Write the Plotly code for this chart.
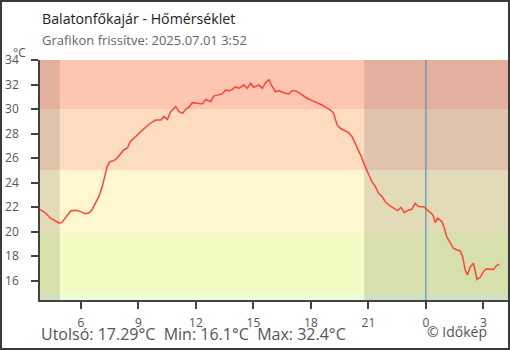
import plotly.graph_objects as go

# ---------------- data ----------------
times = [
    "2025-06-30 03:52", "2025-06-30 04:10", "2025-06-30 04:25", "2025-06-30 04:41", "2025-06-30 04:51",
    "2025-06-30 05:00", "2025-06-30 05:12", "2025-06-30 05:28", "2025-06-30 05:43", "2025-06-30 05:59",
    "2025-06-30 06:14", "2025-06-30 06:25", "2025-06-30 06:35", "2025-06-30 06:46", "2025-06-30 06:56",
    "2025-06-30 07:07", "2025-06-30 07:14", "2025-06-30 07:22", "2025-06-30 07:31", "2025-06-30 07:43",
    "2025-06-30 07:53", "2025-06-30 08:04", "2025-06-30 08:14", "2025-06-30 08:25", "2025-06-30 08:35",
    "2025-06-30 08:51", "2025-06-30 09:01", "2025-06-30 09:07", "2025-06-30 09:34", "2025-06-30 09:54",
    "2025-06-30 10:10", "2025-06-30 10:20", "2025-06-30 10:31", "2025-06-30 10:41", "2025-06-30 10:57",
    "2025-06-30 11:07", "2025-06-30 11:18", "2025-06-30 11:28", "2025-06-30 11:38", "2025-06-30 11:49",
    "2025-06-30 12:05", "2025-06-30 12:20", "2025-06-30 12:31", "2025-06-30 12:46", "2025-06-30 12:56",
    "2025-06-30 13:12", "2025-06-30 13:22", "2025-06-30 13:33", "2025-06-30 13:43", "2025-06-30 13:54",
    "2025-06-30 14:04", "2025-06-30 14:14", "2025-06-30 14:30", "2025-06-30 14:41", "2025-06-30 14:51",
    "2025-06-30 15:01", "2025-06-30 15:17", "2025-06-30 15:28", "2025-06-30 15:38", "2025-06-30 15:49",
    "2025-06-30 15:59", "2025-06-30 16:09", "2025-06-30 16:20", "2025-06-30 16:35", "2025-06-30 16:51",
    "2025-06-30 17:01", "2025-06-30 17:12", "2025-06-30 17:22", "2025-06-30 17:32", "2025-06-30 17:48",
    "2025-06-30 18:04", "2025-06-30 18:20", "2025-06-30 18:35", "2025-06-30 18:46", "2025-06-30 19:01",
    "2025-06-30 19:11", "2025-06-30 19:17", "2025-06-30 19:22", "2025-06-30 19:32", "2025-06-30 19:48",
    "2025-06-30 19:58", "2025-06-30 20:09", "2025-06-30 20:19", "2025-06-30 20:29", "2025-06-30 20:40",
    "2025-06-30 20:50", "2025-06-30 21:01", "2025-06-30 21:11", "2025-06-30 21:22", "2025-06-30 21:32",
    "2025-06-30 21:43", "2025-06-30 21:53", "2025-06-30 22:08", "2025-06-30 22:24", "2025-06-30 22:31",
    "2025-06-30 22:42", "2025-06-30 22:52", "2025-06-30 23:02", "2025-06-30 23:16", "2025-06-30 23:26",
    "2025-06-30 23:37", "2025-06-30 23:53", "2025-07-01 00:03", "2025-07-01 00:13", "2025-07-01 00:22",
    "2025-07-01 00:29", "2025-07-01 00:37", "2025-07-01 00:50", "2025-07-01 00:58", "2025-07-01 01:05",
    "2025-07-01 01:16", "2025-07-01 01:26", "2025-07-01 01:37", "2025-07-01 01:47", "2025-07-01 01:55",
    "2025-07-01 02:03", "2025-07-01 02:10", "2025-07-01 02:19", "2025-07-01 02:29", "2025-07-01 02:34",
    "2025-07-01 02:40", "2025-07-01 02:50", "2025-07-01 03:00", "2025-07-01 03:08", "2025-07-01 03:21",
    "2025-07-01 03:32", "2025-07-01 03:40", "2025-07-01 03:47", "2025-07-01 03:50",
]
temps = [
    21.82, 21.50, 21.09, 20.87, 20.70,
    20.73, 21.17, 21.68, 21.74, 21.63,
    21.46, 21.52, 21.77, 22.31, 22.85,
    23.67, 24.48, 25.30, 25.70, 25.79,
    25.98, 26.39, 26.66, 26.80, 27.35,
    27.74, 27.96, 28.15, 28.78, 29.10,
    29.10, 29.38, 29.16, 29.78, 30.19,
    29.78, 29.65, 29.98, 30.14, 30.52,
    30.47, 30.41, 30.79, 30.60, 31.06,
    31.15, 31.23, 31.55, 31.50, 31.60,
    31.82, 31.69, 31.96, 31.69, 32.10,
    31.77, 31.96, 31.69, 32.15, 32.40,
    31.82, 31.41, 31.50, 31.33, 31.23,
    31.50, 31.50, 31.33, 31.15, 30.88,
    30.68, 30.52, 30.33, 30.15, 29.92,
    29.65, 29.10, 28.70, 28.43, 28.23,
    28.07, 27.74, 27.20, 26.66, 25.98,
    25.30, 24.62, 24.07, 23.67, 23.13,
    22.85, 22.44, 22.09, 21.82, 21.71,
    21.98, 21.55, 21.71, 21.82, 22.31,
    22.05, 22.03, 21.82, 21.55, 21.36,
    20.73, 21.09, 20.82, 20.27, 19.59,
    19.05, 18.64, 18.50, 18.44, 17.95,
    16.87, 16.46, 17.14, 17.42, 16.87,
    16.10, 16.27, 16.73, 16.95, 16.92,
    16.92, 17.20, 17.33, 17.29,
]

x_range = ["2025-06-30 03:52", "2025-07-01 04:17"]
x_tickvals = ["2025-06-30 06:00", "2025-06-30 09:00", "2025-06-30 12:00", "2025-06-30 15:00",
              "2025-06-30 18:00", "2025-06-30 21:00", "2025-07-01 00:00", "2025-07-01 03:00"]
x_ticktext = ["6", "9", "12", "15", "18", "21", "0", "3"]
y_tickvals = [16, 18, 20, 22, 24, 26, 28, 30, 32, 34]
y_range = [14.42, 34]

band_edges = [14.0, 15, 20, 25, 30, 35]
band_colors = ["#eefcd8", "#f2fcc2", "#fff7cf", "#fddcc0", "#fec6b1"]

night_periods = [("2025-06-30 03:00", "2025-06-30 04:54"), ("2025-06-30 20:47", "2025-07-01 05:00")]
midnight = "2025-07-01 00:00"

title = "Balatonfőkajár - Hőmérséklet"
subtitle = "Grafikon frissítve: 2025.07.01 3:52"
summary = "Utolsó: 17.29°C\u00a0\u00a0Min: 16.1°C\u00a0\u00a0Max: 32.4°C"
credit = "© Időkép"
unit = "°C"

# ---------------- layout helpers ----------------
W, H = 510, 350
L, R, T, B = 40, 2, 60, 50
PW, PH = W - L - R, H - T - B


def px(x):
    return (x - L) / PW


def py(y):
    return (H - B - y) / PH


FONT = "Open Sans"
AXC = "#444444"

fig = go.Figure()
fig.add_trace(go.Scatter(x=times, y=temps, mode="lines",
                         line=dict(color="#ff4436", width=1.5), hoverinfo="skip",
                         showlegend=False))

shapes = []
for i, c in enumerate(band_colors):
    shapes.append(dict(type="rect", xref="paper", yref="y", x0=0, x1=1,
                       y0=band_edges[i], y1=band_edges[i + 1], fillcolor=c,
                       line=dict(width=0), layer="below"))
for a, b in night_periods:
    shapes.append(dict(type="rect", xref="x", yref="paper", x0=a, x1=b, y0=0, y1=1,
                       fillcolor="rgba(0,0,0,0.11)", line=dict(width=0), layer="below"))
shapes.append(dict(type="line", xref="x", yref="paper", x0=midnight, x1=midnight, y0=0, y1=1,
                   line=dict(color="#3b88c4", width=1), layer="below"))
# outer frame
shapes.append(dict(type="rect", xref="paper", yref="paper", x0=px(1), x1=px(509),
                   y0=py(349), y1=py(1), line=dict(color="#3a3a3a", width=2),
                   fillcolor="rgba(0,0,0,0)", layer="above"))

annotations = [
    dict(text=title, x=px(40), y=py(18.5), xref="paper", yref="paper", xanchor="left",
         yanchor="middle", showarrow=False, font=dict(family=FONT, size=14.2, color="#222222")),
    dict(text=subtitle, x=px(40), y=py(40.5), xref="paper", yref="paper", xanchor="left",
         yanchor="middle", showarrow=False, font=dict(family=FONT, size=13, color="#666666")),
    dict(text=unit, x=px(11), y=py(52.5), xref="paper", yref="paper", xanchor="left",
         yanchor="middle", showarrow=False, font=dict(family=FONT, size=12, color="#555555")),
    dict(text=summary, x=px(39), y=py(334), xref="paper", yref="paper", xanchor="left",
         yanchor="middle", showarrow=False, font=dict(family=FONT, size=16, color="#555555")),
    dict(text=credit, x=px(425), y=py(331), xref="paper", yref="paper", xanchor="left",
         yanchor="middle", showarrow=False, font=dict(family=FONT, size=14, color="#555555")),
]

common_x = dict(type="date", range=x_range, tickvals=x_tickvals, showgrid=False, zeroline=False,
                tickcolor=AXC, tickwidth=1.5)
common_y = dict(range=y_range, tickvals=y_tickvals, showgrid=False, zeroline=False,
                tickcolor=AXC, tickwidth=1.5)

fig.update_layout(
    width=W, height=H, margin=dict(l=L, r=R, t=T, b=B),
    paper_bgcolor="white", plot_bgcolor="white",
    font=dict(family=FONT, color="#555555"),
    showlegend=False,
    xaxis=dict(**common_x, ticktext=x_ticktext, ticks="outside", ticklen=7,
               showline=True, linecolor=AXC, linewidth=1.5, ticklabelstandoff=4,
               tickfont=dict(family=FONT, size=12, color="#555555")),
    xaxis2=dict(**common_x, overlaying="x", anchor="y", side="bottom", ticks="inside",
                ticklen=6, showticklabels=False, showline=False),
    yaxis=dict(**common_y, ticks="outside", ticklen=7, showline=True, linecolor=AXC,
               linewidth=1.5, ticklabelstandoff=10,
               tickfont=dict(family=FONT, size=12, color="#555555")),
    yaxis2=dict(**common_y, overlaying="y", anchor="x", side="left", ticks="inside",
                ticklen=6, showticklabels=False, showline=False),
    shapes=shapes, annotations=annotations,
)

fig.write_html("out.html", config={"displayModeBar": False})
